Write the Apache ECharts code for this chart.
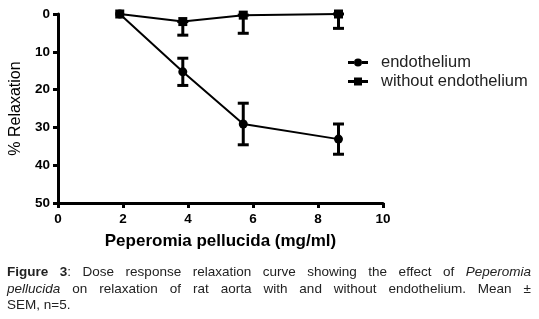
<!DOCTYPE html>
<html>
<head>
<meta charset="utf-8">
<script src="https://cdn.jsdelivr.net/npm/echarts@6/dist/echarts.min.js"></script>
<style>
  html, body { margin: 0; padding: 0; background: #fff; }
  #chart { position: absolute; left: 0; top: 0; width: 539px; height: 319px; }
  .caption {
    position: absolute; left: 7px; top: 264px; width: 524px;
    font-family: "Liberation Sans", Arial, sans-serif; font-size: 13.5px;
    line-height: 16.5px; color: #222;
  }
  .caption .j { text-align: justify; text-align-last: justify; white-space: nowrap; }
</style>
</head>
<body>
<div id="chart"></div>
<div class="caption">
  <div class="j"><b>Figure 3</b>: Dose response relaxation curve showing the effect of <i>Peperomia</i></div>
  <div class="j"><i>pellucida</i> on relaxation of rat aorta with and without endothelium. Mean &plusmn;</div>
  <div>SEM, n=5.</div>
</div>
<script>
  // dose (mg/ml)
  const doses = [1.9, 3.84, 5.7, 8.63];
  // % relaxation, mean and SEM
  const endoMean = [0, 15.3, 29.1, 33.1];
  const endoSem = [0, 3.6, 5.5, 4.0];
  const withoutMean = [0, 2.0, 0.3, 0];
  const withoutSem = [0, 3.6, 4.8, 3.8];
  const xTicks = [0, 2, 4, 6, 8, 10];
  const yTicks = [0, 10, 20, 30, 40, 50];

  const font = '"Liberation Sans", Arial, sans-serif';

  function points(means) {
    return doses.map((d, i) => [d, means[i]]);
  }

  // error bar: x, low, high ; without endothelium only drawn downward
  function bars(means, sems, oneSided) {
    return doses.map((d, i) => [d, oneSided ? means[i] : means[i] - sems[i], means[i] + sems[i]]);
  }

  function renderBar(params, api) {
    const lo = api.value(1), hi = api.value(2);
    if (hi - lo <= 0) return null;
    const p1 = api.coord([api.value(0), lo]);
    const p2 = api.coord([api.value(0), hi]);
    const w = 5.5;
    const style = { stroke: '#000', lineWidth: 3 };
    return {
      type: 'group',
      children: [
        { type: 'line', shape: { x1: p1[0], y1: p1[1], x2: p2[0], y2: p2[1] }, style },
        { type: 'line', shape: { x1: p2[0] - w, y1: p2[1], x2: p2[0] + w, y2: p2[1] }, style },
        { type: 'line', shape: { x1: p1[0] - w, y1: p1[1], x2: p1[0] + w, y2: p1[1] }, style }
      ]
    };
  }

  const chart = echarts.init(document.getElementById('chart'));
  chart.setOption({
    animation: false,
    backgroundColor: '#fff',
    grid: { left: 58, right: 156, top: 14, bottom: 116, outerBoundsMode: 'none' },
    legend: {
      orient: 'vertical',
      left: 343,
      top: 49,
      itemWidth: 20,
      itemHeight: 8,
      itemGap: 2,
      textStyle: { fontFamily: font, fontSize: 16.5, color: '#222', padding: [0, 0, 0, 8] },
      data: [
        { name: 'endothelium', icon: 'path://M0,2.5H6V5.5H0Z M14,2.5H20V5.5H14Z M6,4a4,4 0 1,0 8,0a4,4 0 1,0 -8,0Z' },
        { name: 'without endothelium', icon: 'path://M0,2.5H6V5.5H0Z M14,2.5H20V5.5H14Z M6,0H14V8H6Z' }
      ]
    },
    xAxis: {
      type: 'value',
      position: 'bottom',
      min: xTicks[0], max: xTicks[xTicks.length - 1], interval: 2,
      name: 'Peperomia pellucida (mg/ml)',
      nameLocation: 'middle',
      nameGap: 30,
      nameTextStyle: { fontFamily: font, fontSize: 17, fontWeight: 'bold', color: '#000' },
      axisLine: { onZero: false, lineStyle: { color: '#000', width: 3 } },
      axisTick: { length: 5, lineStyle: { color: '#000', width: 3 } },
      axisLabel: { margin: 9, fontFamily: font, fontSize: 13.5, fontWeight: 'bold', color: '#000' },
      splitLine: { show: false }
    },
    yAxis: {
      type: 'value',
      inverse: true,
      min: yTicks[0], max: yTicks[yTicks.length - 1], interval: 10,
      name: '% Relaxation',
      nameLocation: 'middle',
      nameGap: 34,
      nameTextStyle: { fontFamily: font, fontSize: 16, color: '#000' },
      axisLine: { show: true, onZero: false, lineStyle: { color: '#000', width: 3 } },
      axisTick: { show: true, length: 5, lineStyle: { color: '#000', width: 3 } },
      axisLabel: { margin: 8, fontFamily: font, fontSize: 13.5, fontWeight: 'bold', color: '#000' },
      splitLine: { show: false }
    },
    series: [
      {
        name: 'endothelium',
        type: 'line',
        data: points(endoMean),
        symbol: 'circle',
        symbolSize: 9,
        itemStyle: { color: '#000' },
        lineStyle: { color: '#000', width: 2 },
        z: 3
      },
      {
        type: 'custom',
        data: bars(endoMean, endoSem, false),
        renderItem: renderBar,
        z: 2
      },
      {
        name: 'without endothelium',
        type: 'line',
        data: points(withoutMean),
        symbol: 'rect',
        symbolSize: 9,
        itemStyle: { color: '#000' },
        lineStyle: { color: '#000', width: 2 },
        z: 4
      },
      {
        type: 'custom',
        data: bars(withoutMean, withoutSem, true),
        renderItem: renderBar,
        z: 2
      }
    ]
  });
</script>
</body>
</html>
